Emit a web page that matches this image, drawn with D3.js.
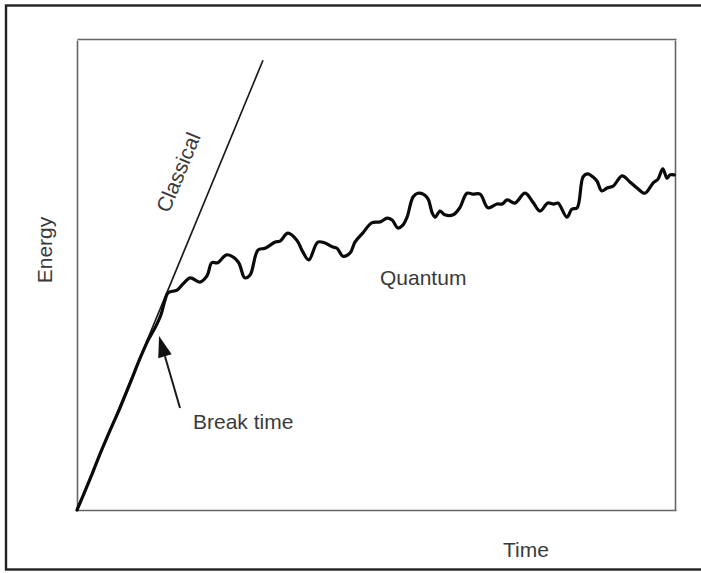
<!DOCTYPE html>
<html>
<head>
<meta charset="utf-8">
<script src="https://cdn.jsdelivr.net/npm/d3@7"></script>
<style>
  html, body { margin: 0; padding: 0; background: #fff; }
  svg { display: block; }
  text { font-family: "Liberation Sans", Arial, Helvetica, sans-serif; fill: #3a3a3a; }
</style>
</head>
<body>
<svg id="chart" width="701" height="573"></svg>
<script>
// ---- data (Time, Energy in arbitrary units 0..100) ----
const classicalTime   = [0, 31.05];
const classicalEnergy = [0, 95.7];

const quantumTime = [0, 1.2, 2.5, 3.8, 5.5, 7.2, 8.9, 10.5, 11.9, 13.0, 14.0, 14.7, 15.2, 16.7, 17.7, 18.9,
  20.5, 21.7, 22.5, 23.5, 25.0, 26.9, 28.0, 28.9, 30.2, 31.4, 33.1, 33.9, 35.2, 36.7, 37.7, 38.7,
  40.2, 41.4, 42.6, 43.4, 44.4, 45.6, 46.4, 47.7, 49.2, 50.6, 51.8, 52.6, 53.6, 54.4, 55.1, 56.1,
  56.9, 57.8, 58.6, 59.3, 59.8, 60.6, 61.4, 62.8, 63.9, 65.1, 66.1, 67.3, 68.6, 70.1, 71.0, 71.8,
  73.1, 74.8, 76.1, 77.3, 78.6, 79.6, 80.3, 81.8, 82.6, 83.5, 84.5, 85.3, 86.1, 86.8, 87.6, 88.5,
  89.5, 91.0, 92.3, 93.5, 94.8, 96.2, 97.0, 97.8, 98.5, 99.0, 99.7];
const quantumEnergy = [0, 3.6, 7.6, 11.8, 16.9, 21.8, 27.1, 32.2, 36.2, 38.7, 41.5, 44.7, 46.2, 46.8, 48.1, 49.4,
  48.5, 49.8, 52.6, 52.6, 54.3, 52.8, 49.4, 50.0, 55.3, 55.7, 57.0, 57.2, 58.9, 57.4, 54.9, 53.2,
  57.0, 56.8, 56.0, 55.7, 54.0, 54.7, 57.0, 58.9, 61.1, 61.3, 62.1, 61.7, 60.0, 60.6, 62.3, 66.6,
  67.4, 67.2, 66.2, 63.2, 62.3, 63.6, 62.8, 62.8, 64.3, 67.4, 67.2, 67.2, 64.3, 65.1, 65.1, 66.0,
  65.3, 67.4, 65.5, 63.6, 65.3, 65.1, 65.3, 62.3, 64.0, 64.3, 70.9, 71.5, 70.9, 70.0, 67.9, 68.5,
  68.9, 71.1, 69.8, 68.5, 67.4, 69.6, 70.4, 72.6, 70.6, 71.3, 71.3];

const xLabel = "Time";
const yLabel = "Energy";
const classicalLabel = "Classical";
const quantumLabel = "Quantum";
const breakLabel = "Break time";
// annotation arrow (data units): tail -> tip
const breakArrowTime   = [17.2, 13.7];
const breakArrowEnergy = [21.7, 37.0];

// ---- drawing ----
const svg = d3.select("#chart");
const plot = { left: 77, right: 676, top: 39, bottom: 510 };

const x = d3.scaleLinear().domain([0, 100]).range([plot.left, plot.right]);
const y = d3.scaleLinear().domain([0, 100]).range([plot.bottom, plot.top + 1]);

// outer frame (extends beyond right edge as in the scan)
svg.append("rect")
  .attr("x", 6).attr("y", 5.5).attr("width", 740).attr("height", 564)
  .attr("fill", "none").attr("stroke", "#222").attr("stroke-width", 2.4);

// plot box via axes without ticks
const axisStyle = g => {
  g.selectAll(".tick").remove();
  g.select(".domain").attr("stroke", "#666").attr("stroke-width", 1.6);
};
svg.append("g").attr("transform", `translate(0,${plot.bottom})`)
  .call(d3.axisBottom(x).tickSizeOuter(0).ticks(0)).call(axisStyle);
svg.append("g").attr("transform", `translate(0,${plot.top})`)
  .call(d3.axisTop(x).tickSizeOuter(0).ticks(0)).call(axisStyle);
svg.append("g").attr("transform", `translate(${plot.left},0)`)
  .call(d3.axisLeft(y).tickSizeOuter(0).ticks(0)).call(axisStyle);
svg.append("g").attr("transform", `translate(${plot.right - 1},0)`)
  .call(d3.axisRight(y).tickSizeOuter(0).ticks(0)).call(axisStyle);

const line = d3.line().x(d => x(d[0])).y(d => y(d[1]));

// classical line
svg.append("path")
  .datum(classicalTime.map((t, i) => [t, classicalEnergy[i]]))
  .attr("d", line).attr("fill", "none")
  .attr("stroke", "#1a1a1a").attr("stroke-width", 1.7);

// quantum line
svg.append("path")
  .datum(quantumTime.map((t, i) => [t, quantumEnergy[i]]))
  .attr("d", line.curve(d3.curveCatmullRom.alpha(0.5))).attr("fill", "none")
  .attr("stroke", "#0a0a0a").attr("stroke-width", 3.2)
  .attr("stroke-linejoin", "round").attr("stroke-linecap", "round");

// arrow
const ax0 = x(breakArrowTime[0]), ay0 = y(breakArrowEnergy[0]);
const ax1 = x(breakArrowTime[1]), ay1 = y(breakArrowEnergy[1]);
const ang = Math.atan2(ay1 - ay0, ax1 - ax0);
const headLen = 21, headW = 7;
const bx = ax1 - headLen * Math.cos(ang), by = ay1 - headLen * Math.sin(ang);
svg.append("line")
  .attr("x1", ax0).attr("y1", ay0).attr("x2", bx).attr("y2", by)
  .attr("stroke", "#1a1a1a").attr("stroke-width", 2);
svg.append("path")
  .attr("d", `M${ax1},${ay1} L${bx + headW * Math.sin(ang)},${by - headW * Math.cos(ang)} L${bx - headW * Math.sin(ang)},${by + headW * Math.cos(ang)} Z`)
  .attr("fill", "#111");

// labels
const fs = 21;
svg.append("text").text(xLabel)
  .attr("x", 503).attr("y", 557).attr("font-size", fs);

svg.append("text").text(yLabel)
  .attr("transform", `translate(52,250) rotate(-90)`)
  .attr("text-anchor", "middle").attr("font-size", fs);

const clAng = Math.atan2(y(classicalEnergy[1]) - y(0), x(classicalTime[1]) - x(0)) * 180 / Math.PI;
svg.append("text").text(classicalLabel)
  .attr("transform", `translate(185,175) rotate(${clAng})`)
  .attr("text-anchor", "middle").attr("font-size", fs);

svg.append("text").text(quantumLabel)
  .attr("x", 380).attr("y", 285).attr("font-size", fs);

svg.append("text").text(breakLabel)
  .attr("x", 193).attr("y", 429).attr("font-size", fs);
</script>
</body>
</html>
